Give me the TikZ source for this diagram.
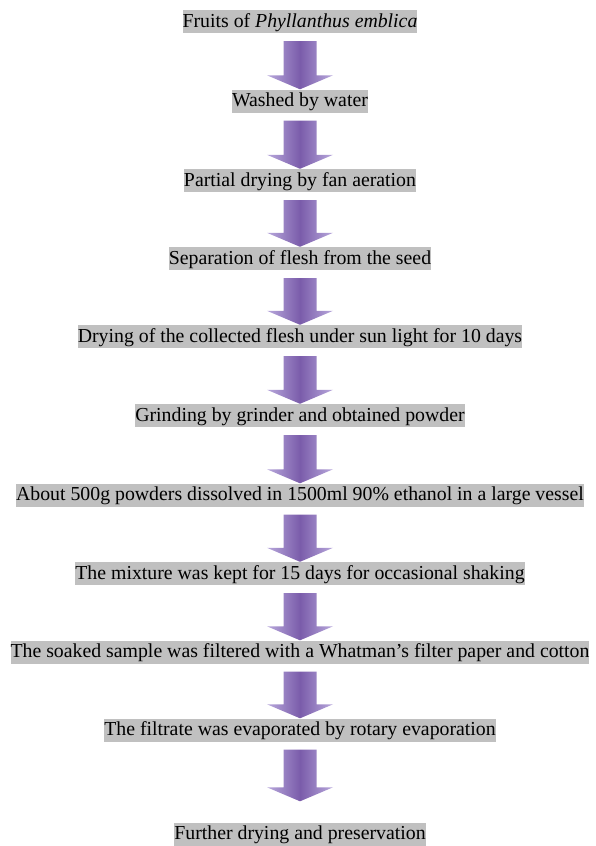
\documentclass[tikz,border=0pt]{standalone}
\usepackage{fontspec}
\setmainfont{Liberation Serif}
\usetikzlibrary{calc}
\definecolor{bandgray}{RGB}{192,192,192}
\definecolor{arrowlight}{RGB}{184,168,220}
\definecolor{arrowdark}{RGB}{122,92,170}

% block arrow from the foot of one step to the head of the next
\newcommand{\flowarrow}[3][0pt]{%
  \path[blockarrow] let \p1 = ($(#2.south)+(0,-8pt)$), \p2 = ($(#3.north)+(0,#1)$) in
    (\x1-16.5pt,\y1) -- (\x1+16.5pt,\y1) -- (\x1+16.5pt,\y2+14pt) -- (\x1+33pt,\y2+14pt)
    -- (\x1,\y2) -- (\x1-33pt,\y2+14pt) -- (\x1-16.5pt,\y2+14pt) -- cycle;}

\begin{document}
\begin{tikzpicture}[
  x=1pt, y=-1pt,
  font=\fontsize{19.8}{23}\selectfont,
  stepbox/.style = {rectangle, fill=bandgray, inner xsep=0pt, inner ysep=1pt,
                    text height=16pt, text depth=5pt},
  blockarrow/.style = {left color=arrowlight, right color=arrowlight,
                       middle color=arrowdark}
]
\useasboundingbox (0,0) rectangle (595,846);

% Steps of the extraction
\node[stepbox] (fruits)     at (300,21.5)  {Fruits of \textit{Phyllanthus emblica}};
\node[stepbox] (washed)     at (300,101)   {Washed by water};
\node[stepbox] (partial)    at (300,180.5) {Partial drying by fan aeration};
\node[stepbox] (separation) at (300,258.5) {Separation of flesh from the seed};
\node[stepbox] (sundry)     at (300,336.5) {Drying of the collected flesh under sun light for 10 days};
\node[stepbox] (grinding)   at (300,415.5) {Grinding by grinder and obtained powder};
\node[stepbox] (dissolve)   at (300,495)   {About 500g powders dissolved in 1500ml 90\% ethanol in a large vessel};
\node[stepbox] (mixture)    at (300,573.5) {The mixture was kept for 15 days for occasional shaking};
\node[stepbox] (filter)     at (300,652)   {The soaked sample was filtered with a Whatman's filter paper and cotton};
\node[stepbox] (evaporate)  at (300,730)   {The filtrate was evaporated by rotary evaporation};
\node[stepbox] (preserve)   at (300,834)   {Further drying and preservation};

% Arrows between the steps
\flowarrow{fruits}{washed}
\flowarrow{washed}{partial}
\flowarrow{partial}{separation}
\flowarrow{separation}{sundry}
\flowarrow{sundry}{grinding}
\flowarrow{grinding}{dissolve}
\flowarrow{dissolve}{mixture}
\flowarrow{mixture}{filter}
\flowarrow{filter}{evaporate}
\flowarrow[21pt]{evaporate}{preserve}

\end{tikzpicture}
\end{document}
